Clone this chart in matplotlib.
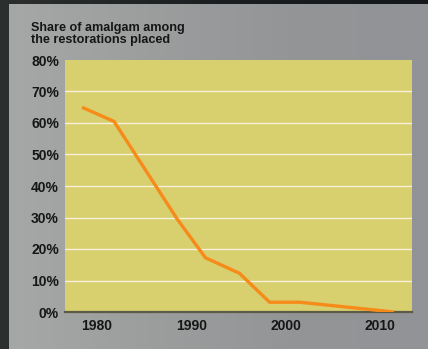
import numpy as np
import matplotlib
matplotlib.use("Agg")
import matplotlib.pyplot as plt

# Share of amalgam among restorations placed, by year
years = [1978.4, 1981.8, 1988.5, 1991.5, 1995.1, 1998.3, 2001.5, 2011.5]
share = [65.0, 60.5, 29.5, 17.2, 12.3, 3.1, 3.1, 0.0]

y_ticks = [0, 10, 20, 30, 40, 50, 60, 70, 80]
y_labels = [f"{v}%" for v in y_ticks]
x_ticks = [1980, 1990, 2000, 2010]

title = "Share of amalgam among\nthe restorations placed"

W, H = 428, 349
FONT = "Liberation Sans"
TEXT_COL = "#161616"
PLOT_BG = "#d8cf6f"
LINE_COL = "#f68b1a"

fig = plt.figure(figsize=(W / 100, H / 100), dpi=100)

# backdrop: dark frame plus a grey panel with a soft horizontal gradient
bg = fig.add_axes([0, 0, 1, 1])
bg.set_xlim(0, W)
bg.set_ylim(H, 0)
bg.axis("off")
frame = np.linspace(0, 1, 64)[None, :]
bg.imshow(frame, extent=[0, W, H, 0], aspect="auto",
          cmap=matplotlib.colors.LinearSegmentedColormap.from_list(
              "frame", ["#2b2f2d", "#1c1f21", "#15181b"]))
grad = np.linspace(0, 1, 256)[None, :]
panel = matplotlib.colors.LinearSegmentedColormap.from_list(
    "panel", ["#a6a7a7", "#9c9d9d", "#949597", "#929396"])
bg.imshow(grad, extent=[9, W, H, 4], aspect="auto", cmap=panel)

# plot area
x0, x1, y0, y1 = 65, 412, 60, 312
ax = fig.add_axes([x0 / W, 1 - y1 / H, (x1 - x0) / W, (y1 - y0) / H])
ax.set_facecolor(PLOT_BG)
ax.set_xlim(1976.6, 2013.4)
ax.set_ylim(0, 80)

ax.set_yticks(y_ticks)
ax.set_yticklabels(y_labels)
ax.set_xticks(x_ticks)
ax.set_xticklabels([str(x) for x in x_ticks])
ax.tick_params(length=0, labelsize=10, labelcolor=TEXT_COL)
ax.tick_params(axis="y", pad=4.3)
ax.tick_params(axis="x", pad=5)
for lab in ax.get_xticklabels() + ax.get_yticklabels():
    lab.set_fontfamily(FONT)
    lab.set_fontweight("bold")

for v in y_ticks[1:-1]:
    ax.axhline(v, color="#f6f1d8", lw=1.0, zorder=1)

for side in ("top", "right", "left"):
    ax.spines[side].set_visible(False)
ax.spines["bottom"].set_color("#5c5b47")
ax.spines["bottom"].set_linewidth(1.6)

ax.plot(years, share, color=LINE_COL, lw=2.4, solid_capstyle="butt",
        solid_joinstyle="miter", zorder=3)

fig.text(31 / W, 1 - 22 / H, title, ha="left", va="top", fontsize=9.1,
         fontfamily=FONT, fontweight="bold", color=TEXT_COL, linespacing=1.0)

fig.savefig("out.png", dpi=100)
